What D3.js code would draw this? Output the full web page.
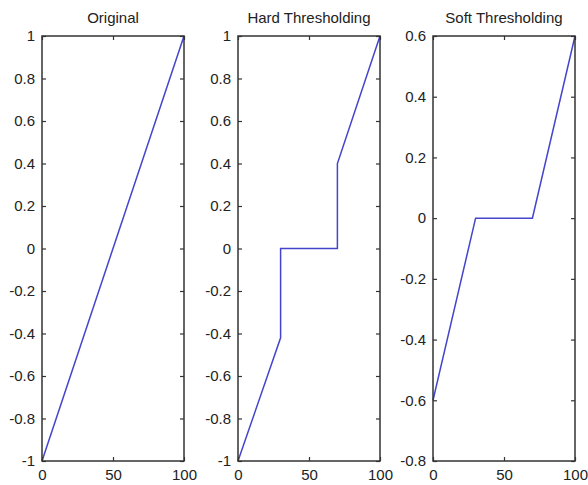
<!DOCTYPE html>
<html>
<head>
<meta charset="utf-8">
<script src="https://cdn.jsdelivr.net/npm/d3@7"></script>
<style>
  body { margin: 0; background: #fff; }
  svg { display: block; font-family: 'Liberation Sans', Arial, sans-serif; }
  .domain { display: none; }
</style>
</head>
<body>
<svg id="chart"></svg>
<script>
// vertices of each curve
const origX = [0, 100];
const origY = [-1, 1];

const hardX = [0, 30, 30, 70, 70, 100];
const hardY = [-1, -0.42, 0, 0, 0.4, 1];

const softX = [0, 30, 70, 100];
const softY = [-0.6, 0, 0, 0.6];

const titles = ['Original', 'Hard Thresholding', 'Soft Thresholding'];
const xTicks = [0, 50, 100];
const yTicksFull = [-1, -0.8, -0.6, -0.4, -0.2, 0, 0.2, 0.4, 0.6, 0.8, 1];
const yTicksSoft = [-0.8, -0.6, -0.4, -0.2, 0, 0.2, 0.4, 0.6];

const width = 588;
const height = 485;
const plotTop = 36;
const plotBottom = 461;
const lefts = [42, 238, 433];
const plotW = 142;
const tick = 4;

const svg = d3.select('#chart').attr('width', width).attr('height', height);

const panels = [
  { xs: origX, ys: origY, yTicks: yTicksFull, dom: [-1, 1] },
  { xs: hardX, ys: hardY, yTicks: yTicksFull, dom: [-1, 1] },
  { xs: softX, ys: softY, yTicks: yTicksSoft, dom: [-0.8, 0.6] },
];

panels.forEach((p, i) => {
  const left = lefts[i];
  const x = d3.scaleLinear().domain([0, 100]).range([left, left + plotW]);
  const y = d3.scaleLinear().domain(p.dom).range([plotBottom, plotTop]);
  const fmt = (d) => String(d);

  const line = d3
    .line()
    .x((d) => x(d[0]))
    .y((d) => y(d[1]));

  svg
    .append('path')
    .datum(p.xs.map((v, k) => [v, p.ys[k]]))
    .attr('d', line)
    .attr('fill', 'none')
    .attr('stroke', '#4444cc')
    .attr('stroke-width', 1.5);

  // left axis with labels, ticks inside
  const gl = svg
    .append('g')
    .attr('transform', 'translate(' + left + ',0)')
    .call(d3.axisLeft(y).tickValues(p.yTicks).tickSize(-tick).tickPadding(7).tickFormat(fmt));
  // right axis ticks only
  const gr = svg
    .append('g')
    .attr('transform', 'translate(' + (left + plotW) + ',0)')
    .call(d3.axisRight(y).tickValues(p.yTicks).tickSize(-tick).tickFormat(''));
  // bottom axis
  const gb = svg
    .append('g')
    .attr('transform', 'translate(0,' + plotBottom + ')')
    .call(d3.axisBottom(x).tickValues(xTicks).tickSize(-tick).tickPadding(8).tickFormat(fmt));
  // top axis ticks only
  const gt = svg
    .append('g')
    .attr('transform', 'translate(0,' + plotTop + ')')
    .call(d3.axisTop(x).tickValues(xTicks).tickSize(-tick).tickFormat(''));

  [gl, gr, gb, gt].forEach((g) => {
    g.selectAll('line').attr('stroke', '#333').attr('stroke-width', 1.2);
    g.selectAll('text').attr('fill', '#222').style('font-size', '15px');
  });

  svg
    .append('rect')
    .attr('x', left)
    .attr('y', plotTop)
    .attr('width', plotW)
    .attr('height', plotBottom - plotTop)
    .attr('fill', 'none')
    .attr('stroke', '#333')
    .attr('stroke-width', 1.5);

  svg
    .append('text')
    .attr('x', left + plotW / 2)
    .attr('y', 23)
    .attr('text-anchor', 'middle')
    .style('font-size', '15px')
    .attr('fill', '#222')
    .text(titles[i]);
});
</script>
</body>
</html>
